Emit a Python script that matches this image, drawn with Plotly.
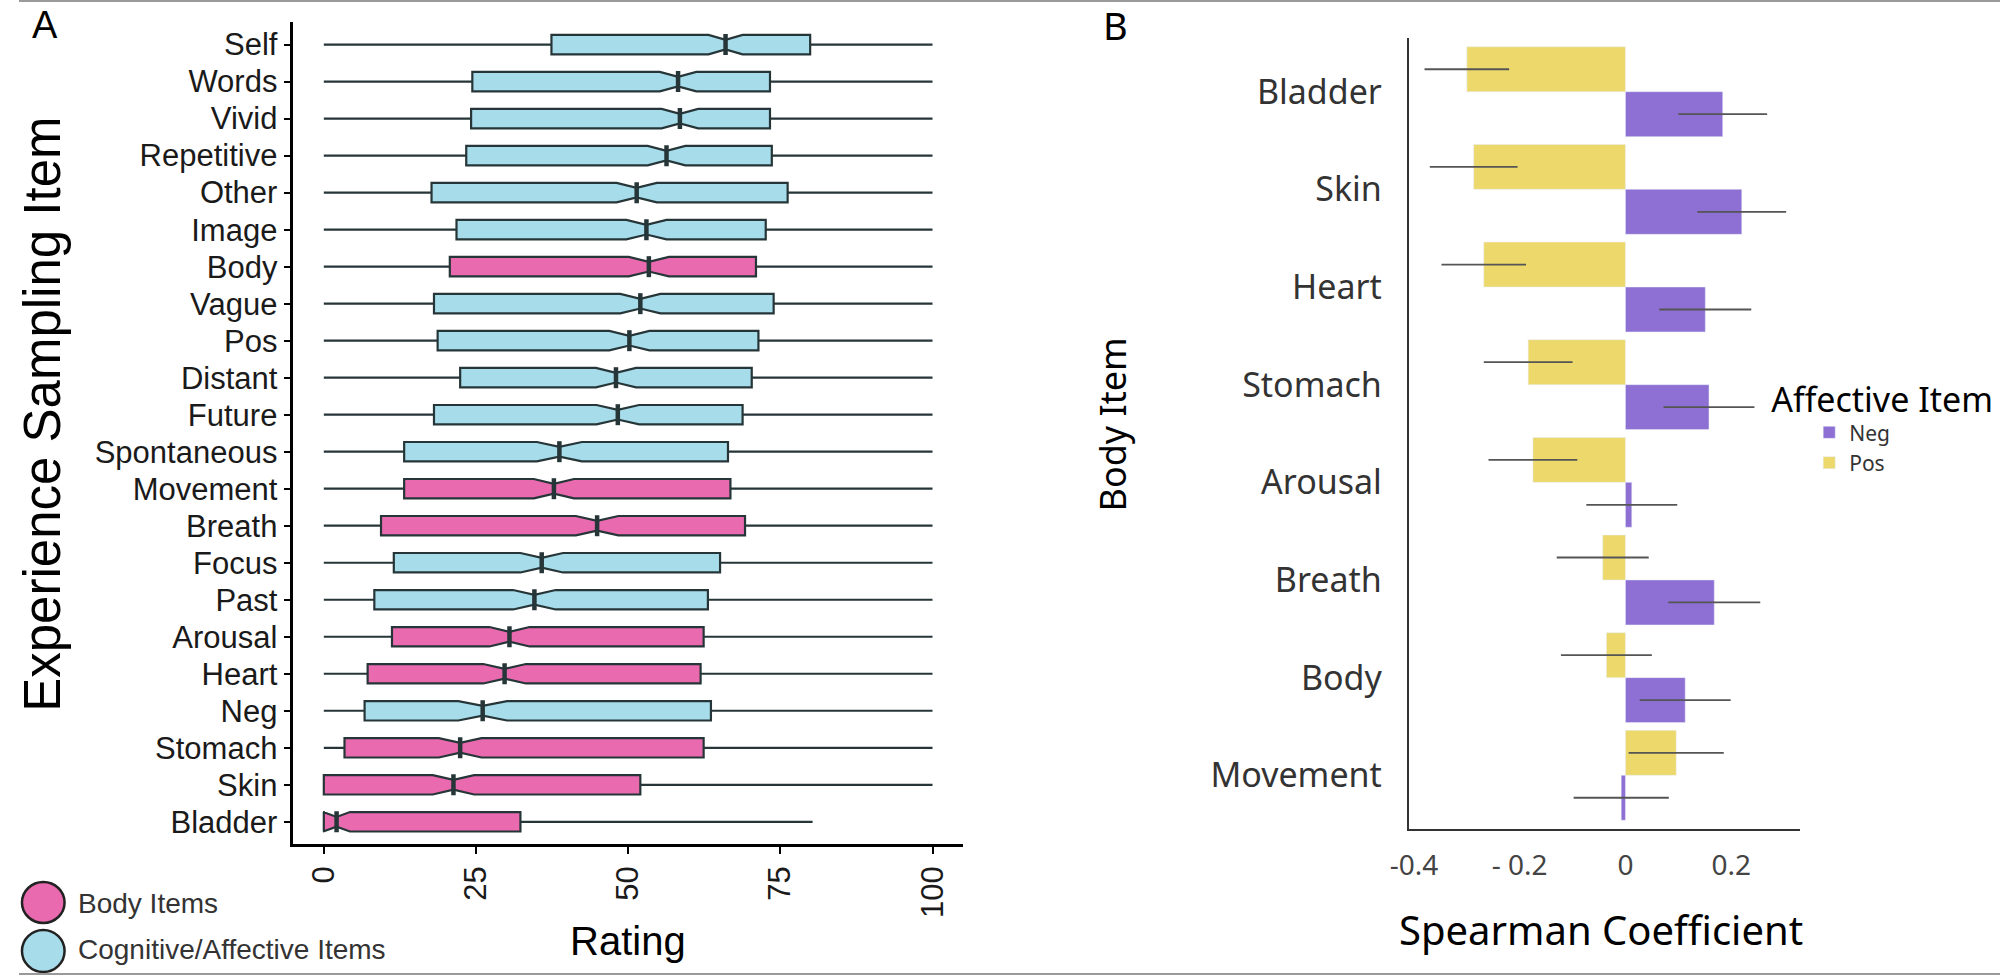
import plotly.graph_objects as go

W, H = 2000, 976

# ---------------- Panel A data (notched boxplots) ----------------
items = ["Self", "Words", "Vivid", "Repetitive", "Other", "Image", "Body", "Vague",
         "Pos", "Distant", "Future", "Spontaneous", "Movement", "Breath", "Focus",
         "Past", "Arousal", "Heart", "Neg", "Stomach", "Skin", "Bladder"]
body_items = ["Body", "Movement", "Breath", "Arousal", "Heart", "Stomach", "Skin", "Bladder"]
q1_vals = [37.4, 24.4, 24.2, 23.4, 17.7, 21.8, 20.7, 18.1, 18.7, 22.4, 18.1, 13.2,
           13.2, 9.4, 11.5, 8.3, 11.2, 7.2, 6.7, 3.4, 0.0, 0.0]
median_vals = [66.0, 58.2, 58.5, 56.3, 51.4, 53.0, 53.4, 52.0, 50.2, 48.0, 48.3, 38.7,
               37.8, 44.9, 35.8, 34.6, 30.5, 29.7, 26.1, 22.4, 21.3, 2.1]
q3_vals = [79.9, 73.3, 73.3, 73.6, 76.2, 72.6, 71.0, 73.9, 71.4, 70.3, 68.8, 66.4,
           66.8, 69.2, 65.1, 63.1, 62.4, 61.9, 63.6, 62.4, 52.0, 32.3]
lower_vals = [0, 0, 0, 0, 0, 0, 0, 0, 0, 0, 0, 0, 0, 0, 0, 0, 0, 0, 0, 0, 0, 0]
upper_vals = [100, 100, 100, 100, 100, 100, 100, 100, 100, 100, 100, 100, 100, 100,
              100, 100, 100, 100, 100, 100, 100, 80.3]
notch_vals = [2.8, 3.0, 3.0, 3.1, 3.3, 3.3, 3.3, 3.3, 3.3, 3.3, 3.5, 3.7, 3.3, 3.5,
              3.5, 3.5, 3.3, 3.5, 4.0, 3.5, 3.4, 2.2]
rating_ticks = [0, 25, 50, 75, 100]

# ---------------- Panel B data (Spearman bars) ----------------
body_b = ["Bladder", "Skin", "Heart", "Stomach", "Arousal", "Breath", "Body", "Movement"]
neg_vals = [0.184, 0.220, 0.151, 0.158, 0.012, 0.168, 0.113, -0.008]
pos_vals = [-0.300, -0.287, -0.268, -0.184, -0.175, -0.043, -0.036, 0.096]
neg_err = [0.084, 0.084, 0.087, 0.086, 0.086, 0.087, 0.086, 0.090]
pos_err = [0.080, 0.083, 0.080, 0.084, 0.084, 0.087, 0.086, 0.090]
spear_ticks = [-0.4, -0.2, 0, 0.2]
spear_ticktext = ["-0.4", "- 0.2", "0", "0.2"]

PINK = "#E96AAE"
BLUE = "#A7DCEB"
PURPLE = "#8E6FD3"
YELLOW = "#EDD86B"
EDGE = "#263638"
SANS_A = "Liberation Sans, Arial, sans-serif"
SANS_B = "Noto Sans, Open Sans, sans-serif"


def fx(x):
    return x / W


def fy(y):
    return 1 - y / H


fig = go.Figure()

groups = {"body": [], "cog": []}
for i, it in enumerate(items):
    groups["body" if it in body_items else "cog"].append(i)

for key, color in (("cog", BLUE), ("body", PINK)):
    idx = groups[key]
    fig.add_trace(go.Box(
        y=[items[i] for i in idx],
        q1=[q1_vals[i] for i in idx],
        median=[median_vals[i] for i in idx],
        q3=[q3_vals[i] for i in idx],
        lowerfence=[lower_vals[i] for i in idx],
        upperfence=[upper_vals[i] for i in idx],
        notchspan=[notch_vals[i] for i in idx],
        orientation="h", notched=True, notchwidth=0.25,
        fillcolor=color, line=dict(color=EDGE, width=2.2),
        whiskerwidth=0, boxpoints=False, showlegend=False,
        hoverinfo="skip", xaxis="x", yaxis="y",
    ))

# thick median marks (as in ggplot's notched boxes)
fig.add_trace(go.Scatter(
    x=median_vals, y=items, mode="markers", showlegend=False, hoverinfo="skip",
    marker=dict(symbol="line-ns", size=15, line=dict(color=EDGE, width=4.5)),
    xaxis="x", yaxis="y",
))

# Panel B bars (Pos first so it sits on top of each group with reversed axis)
fig.add_trace(go.Bar(
    y=body_b, x=pos_vals, orientation="h", name="Pos", marker_color=YELLOW,
    error_x=dict(type="data", array=pos_err, width=0, thickness=1.8, color="#555555"),
    xaxis="x2", yaxis="y2", legend="legend",
))
fig.add_trace(go.Bar(
    y=body_b, x=neg_vals, orientation="h", name="Neg", marker_color=PURPLE,
    error_x=dict(type="data", array=neg_err, width=0, thickness=1.8, color="#555555"),
    xaxis="x2", yaxis="y2", legend="legend",
))

axis_common = dict(showgrid=False, zeroline=False, showline=True)

fig.update_layout(
    width=W, height=H, autosize=False,
    margin=dict(l=0, r=0, t=0, b=0),
    paper_bgcolor="white", plot_bgcolor="white",
    boxmode="overlay", boxgap=0.25,
    barmode="group", bargap=0.08, bargroupgap=0,
    xaxis=dict(
        domain=[fx(277), fx(953)], range=[-5, 105], anchor="y",
        tickvals=rating_ticks, tickangle=-90, ticks="outside", ticklen=7,
        tickwidth=2, tickcolor="black", linecolor="black", linewidth=2.5,
        tickfont=dict(family=SANS_A, size=31, color="#1a1a1a"), **axis_common,
    ),
    yaxis=dict(
        domain=[fy(844), fy(22.4)], anchor="x", type="category",
        categoryorder="array", categoryarray=items[::-1], range=[-0.6, 21.6],
        ticks="outside", ticklen=7, tickwidth=2, tickcolor="black",
        linecolor="black", linewidth=2.5,
        tickfont=dict(family=SANS_A, size=31, color="#1a1a1a"), **axis_common,
    ),
    xaxis2=dict(
        domain=[fx(1403), fx(1798)], range=[-0.41, 0.33], anchor="y2",
        tickvals=spear_ticks, ticktext=spear_ticktext, ticks="",
        linecolor="#333333", linewidth=2, ticklabelstandoff=10,
        tickfont=dict(family=SANS_B, size=28, color="#444444"), **axis_common,
    ),
    yaxis2=dict(
        domain=[fy(829), fy(38)], anchor="x2", type="category",
        categoryorder="array", categoryarray=body_b, range=[7.55, -0.55],
        ticks="", linecolor="#333333", linewidth=2, ticklabelstandoff=18,
        tickfont=dict(family=SANS_B, size=34, color="#333333"), **axis_common,
    ),
    legend=dict(
        x=fx(1767), y=fy(368), xanchor="left", yanchor="top",
        traceorder="reversed", indentation=40,
        title=dict(text="Affective Item", font=dict(family=SANS_B, size=34, color="black")),
        font=dict(family=SANS_B, size=21, color="#333333"),
        bgcolor="rgba(0,0,0,0)",
    ),
)

annotations = [
    dict(text="A", x=fx(26), y=fy(25), font=dict(family=SANS_A, size=38, color="black")),
    dict(text="B", x=fx(1107), y=fy(25), font=dict(family=SANS_B, size=38, color="black")),
    dict(text="Rating", x=fx(615), y=fy(941), font=dict(family=SANS_A, size=40, color="black")),
    dict(text="Experience Sampling Item", x=fx(23), y=fy(414), textangle=-90,
         font=dict(family=SANS_A, size=51, color="black")),
    dict(text="Body Item", x=fx(1103), y=fy(425), textangle=-90,
         font=dict(family=SANS_B, size=36, color="black")),
    dict(text="Spearman Coefficient", x=fx(1597), y=fy(929),
         font=dict(family=SANS_B, size=40, color="black")),
    dict(text="Body Items", x=fx(58), y=fy(903), xanchor="left",
         font=dict(family=SANS_A, size=28, color="#333333")),
    dict(text="Cognitive/Affective Items", x=fx(58), y=fy(949), xanchor="left",
         font=dict(family=SANS_A, size=28, color="#333333")),
]
for a in annotations:
    a.setdefault("xanchor", "center")
    a.update(xref="paper", yref="paper", yanchor="middle", showarrow=False)
fig.update_layout(annotations=annotations)

shapes = [
    dict(type="circle", xref="paper", yref="paper", x0=fx(3), x1=fx(46), y0=fy(923), y1=fy(882),
         fillcolor=PINK, line=dict(color="#222222", width=2.5)),
    dict(type="circle", xref="paper", yref="paper", x0=fx(3), x1=fx(46), y0=fy(972), y1=fy(930),
         fillcolor=BLUE, line=dict(color="#222222", width=2.5)),
    dict(type="line", xref="paper", yref="paper", x0=0, x1=1, y0=fy(1), y1=fy(1),
         line=dict(color="#9a9a9a", width=2)),
    dict(type="line", xref="paper", yref="paper", x0=0, x1=1, y0=fy(974), y1=fy(974),
         line=dict(color="#9a9a9a", width=2)),
]
fig.update_layout(shapes=shapes)

fig.write_html(
    "out.html",
    config={"displayModeBar": False},
    post_script="document.body.style.margin='0';document.body.style.overflow='hidden';",
)
